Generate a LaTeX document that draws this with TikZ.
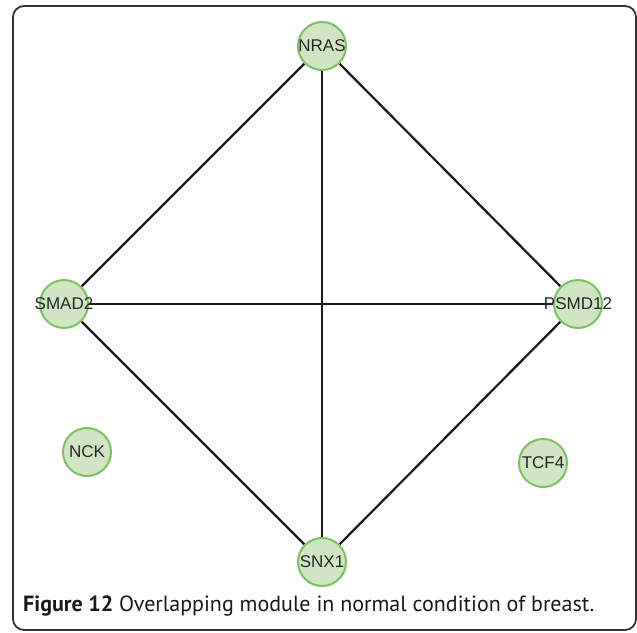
\documentclass[tikz,border=0pt]{standalone}
\usepackage{fontspec}
\setmainfont{Liberation Sans}
\newfontfamily\capfont{PT Sans}
\usetikzlibrary{backgrounds}
\definecolor{nodefill}{RGB}{208,230,194}
\definecolor{nodeline}{RGB}{125,192,98}
\definecolor{edgecol}{RGB}{25,25,25}
\tikzset{
  gene/.style={circle,draw=nodeline,fill=nodefill,line width=2pt,minimum size=48pt,inner sep=0pt,
    label={[font=\fontsize{17}{18}\selectfont,text=black!85,inner sep=0pt]center:#1}},
  edge/.style={draw=edgecol,line width=2.2pt},
  frame/.style={draw=black!80,line width=1.8pt,rounded corners=11pt}
}
\begin{document}
\begin{tikzpicture}[x=1pt,y=-1pt]
\useasboundingbox (0,0) rectangle (637,632);
\draw[frame] (13,6) rectangle (636,630);
\node[gene=NRAS] (nras) at (322,46) {};
\node[gene=SMAD2] (smad) at (64,304) {};
\node[gene=PSMD12] (psmd) at (578,304) {};
\node[gene=SNX1] (snx) at (322,562) {};
\node[gene=NCK] (nck) at (87,452) {};
\node[gene=TCF4] (tcf) at (543,463) {};
\begin{scope}[on background layer]
\draw[edge] (nras) -- (smad);
\draw[edge] (nras) -- (psmd);
\draw[edge] (nras) -- (snx);
\draw[edge] (smad) -- (psmd);
\draw[edge] (smad) -- (snx);
\draw[edge] (psmd) -- (snx);
\end{scope}
\node[anchor=base west,inner sep=0pt,font=\capfont\fontsize{22}{26}\selectfont,text=black!90] (cap) at (23,611)
  {\textbf{Figure 12} Overlapping module in normal condition of breast.};
\end{tikzpicture}
\end{document}
